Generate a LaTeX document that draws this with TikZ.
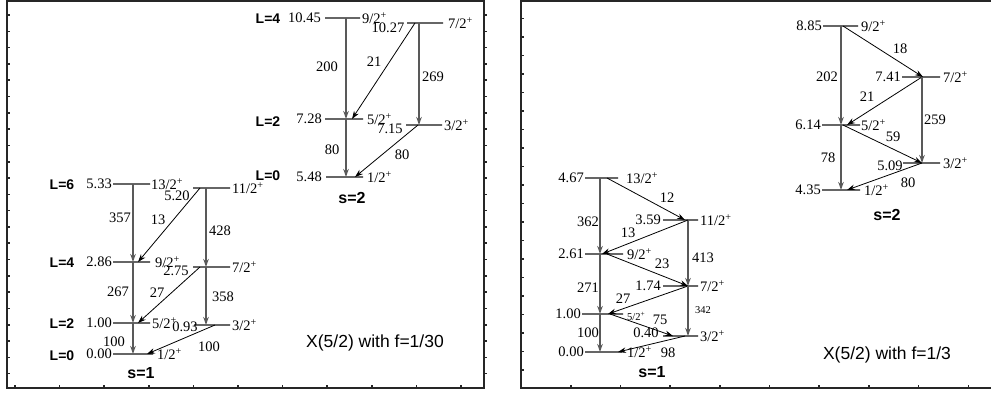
\documentclass[tikz,border=0pt]{standalone}
\usepackage{fontspec}
\setmainfont{Liberation Serif}
\setsansfont{Liberation Sans}
\usetikzlibrary{arrows.meta, positioning}

\begin{document}
\begin{tikzpicture}[
    x=1pt, y=-1pt,
    lvl/.style={draw=black!60, line width=1.4pt, minimum width=#1, minimum height=0pt, inner sep=0pt, outer sep=0pt, anchor=west},
    energy/.style={font=\fontsize{14.5}{16}\selectfont, inner sep=1pt},
    spin/.style={font=\fontsize{14.5}{16}\selectfont, inner sep=1pt},
    small spin/.style={font=\fontsize{10.5}{12}\selectfont, inner sep=1pt},
    inten/.style={font=\fontsize{14.5}{16}\selectfont, inner sep=1pt},
    gamma/.style={-{Stealth[length=8pt, width=5.5pt]}, line width=0.8pt},
    main/.style={gamma, draw=black!65, line width=1.3pt},
    band label/.style={font=\sffamily\bfseries\fontsize{14}{16}\selectfont},
    seq label/.style={font=\sffamily\bfseries\fontsize{16}{18}\selectfont},
    note/.style={font=\sffamily\fontsize{17.5}{20}\selectfont},
    panel frame/.style={line width=1.6pt, black!85},
    axis tick/.style={line width=1.6pt, black!85}
]

\useasboundingbox (0,0) rectangle (991,394);
\fill[white] (0,0) rectangle (991,394);

% Frames
\draw[panel frame] (7,1) rectangle (484,388);
\foreach \i in {0,...,22} {
    \draw[axis tick] (7,{15+16.3*\i}) -- ++(3,0);
    \draw[axis tick] (484,{15+16.3*\i}) -- ++(3,0);
}
\foreach \i in {0,...,10}
    \draw[axis tick] ({15+44.6*\i},388) -- ++(0,-3);

\draw[panel frame] (991,1) -- (521,1) -- (521,388) -- (991,388);
\foreach \i in {1,...,20}
    \draw[axis tick] (521,{18.5*\i}) -- ++(3,0);
\foreach \i in {1,...,9}
    \draw[axis tick] ({521+49.7*\i},388) -- ++(0,-3);

% Left panel, s=1
\node[lvl=37pt] (a13) at (113,184) {};
\node[lvl=37pt] (a11) at (193,188) {};
\node[lvl=37pt] (a9)  at (113,262) {};
\node[lvl=37pt] (a7)  at (193,267) {};
\node[lvl=37pt] (a5)  at (113,323) {};
\node[lvl=36pt] (a3)  at (194,325) {};
\node[lvl=40pt] (a1)  at (113,354) {};

\node[energy, left=0pt of a13] (a13e) {5.33};
\node[energy] (a11e) at (177,196) {5.20};
\node[energy, left=0pt of a9] (a9e) {2.86};
\node[energy] (a7e) at (176,271) {2.75};
\node[energy, left=0pt of a5] (a5e) {1.00};
\node[energy] (a3e) at (185,327) {0.93};
\node[energy, left=0pt of a1] (a1e) {0.00};

\node[spin, right=0pt of a13] (a13j) {13/2\textsuperscript{+}};
\node[spin, right=1pt of a11] (a11j) {11/2\textsuperscript{+}};
\node[spin, right=4pt of a9]  (a9j)  {9/2\textsuperscript{+}};
\node[spin, right=1pt of a7]  (a7j)  {7/2\textsuperscript{+}};
\node[spin, right=1pt of a5]  (a5j)  {5/2\textsuperscript{+}};
\node[spin, right=1pt of a3]  (a3j)  {3/2\textsuperscript{+}};
\node[spin, right=3pt of a1]  (a1j)  {1/2\textsuperscript{+}};

\node[band label] (aL6) at (62,185) {L=6};
\node[band label] (aL4) at (62,263) {L=4};
\node[band label] (aL2) at (62,324) {L=2};
\node[band label] (aL0) at (62,356) {L=0};
\node[seq label] (as) at (141,373) {s=1};

\draw[main]  ([xshift=20pt]a13.west) -- ([xshift=20pt]a9.west);
\draw[gamma] ([xshift=7pt]a11.west)  -- ([xshift=25pt]a9.west);
\draw[main]  ([xshift=13pt]a11.west) -- ([xshift=13pt]a7.west);
\draw[main]  ([xshift=20pt]a9.west)  -- ([xshift=20pt]a5.west);
\draw[gamma] ([xshift=7pt]a7.west)   -- ([xshift=25pt]a5.west);
\draw[main]  ([xshift=13pt]a7.west)  -- ([xshift=12pt]a3.west);
\draw[main]  ([xshift=20pt]a5.west)  -- ([xshift=20pt]a1.west);
\draw[gamma] ([xshift=21pt]a3.west)  -- ([xshift=34pt]a1.west);

\node[inten] (ia357) at (120,218) {357};
\node[inten] (ia13)  at (158,220) {13};
\node[inten] (ia428) at (220,231) {428};
\node[inten] (ia267) at (118,292) {267};
\node[inten] (ia27)  at (157,293) {27};
\node[inten] (ia358) at (223,297) {358};
\node[inten] (ia100v) at (114,342) {100};
\node[inten] (ia100d) at (209,347) {100};

% Left panel, s=2
\node[lvl=35pt] (b9) at (325,18) {};
\node[lvl=36pt] (b7) at (407,23) {};
\node[lvl=38pt] (b5) at (325,119) {};
\node[lvl=36pt] (b3) at (406,125) {};
\node[lvl=37pt] (b1) at (326,177) {};

\node[energy, left=3pt of b9] (b9e) {10.45};
\node[energy] (b7e) at (388,28) {10.27};
\node[energy, left=2pt of b5] (b5e) {7.28};
\node[energy] (b3e) at (390,129) {7.15};
\node[energy, left=3pt of b1] (b1e) {5.48};

\node[spin, right=1pt of b9] (b9j) {9/2\textsuperscript{+}};
\node[spin, right=4pt of b7] (b7j) {7/2\textsuperscript{+}};
\node[spin, right=3pt of b5] (b5j) {5/2\textsuperscript{+}};
\node[spin, right=1pt of b3] (b3j) {3/2\textsuperscript{+}};
\node[spin, right=3pt of b1] (b1j) {1/2\textsuperscript{+}};

\node[band label] (bL4) at (268,19) {L=4};
\node[band label] (bL2) at (268,122) {L=2};
\node[band label] (bL0) at (268,176) {L=0};
\node[seq label] (bs) at (352,198) {s=2};

\draw[main]  ([xshift=21pt]b9.west) -- ([xshift=21pt]b5.west);
\draw[gamma] ([xshift=8pt]b7.west)  -- ([xshift=27pt]b5.west);
\draw[main]  ([xshift=12pt]b7.west) -- ([xshift=13pt]b3.west);
\draw[main]  ([xshift=21pt]b5.west) -- ([xshift=20pt]b1.west);
\draw[gamma] ([xshift=12pt]b3.west) -- ([xshift=29pt]b1.west);

\node[inten] (ib200) at (327,67) {200};
\node[inten] (ib21)  at (374,62) {21};
\node[inten] (ib269) at (433,77) {269};
\node[inten] (ib80v) at (332,150) {80};
\node[inten] (ib80d) at (402,155) {80};

\node[note] (fa) at (375,343) {X(5/2) with f=1/30};

% Right panel, s=1
\node[lvl=33pt] (c13) at (585,178) {};
\node[lvl=35pt] (c11) at (663,220) {};
\node[lvl=38pt] (c9)  at (585,254) {};
\node[lvl=35pt] (c7)  at (663,286) {};
\node[lvl=41pt] (c5)  at (582,314) {};
\node[lvl=35pt] (c3)  at (663,336) {};
\node[lvl=37pt] (c1)  at (585,352) {};

\node[energy, left=0pt of c13] (c13e) {4.67};
\node[energy, left=1pt of c11] (c11e) {3.59};
\node[energy, left=0pt of c9]  (c9e)  {2.61};
\node[energy, left=1pt of c7]  (c7e)  {1.74};
\node[energy, left=0pt of c5]  (c5e)  {1.00};
\node[energy] (c3e) at (646,333) {0.40};
\node[energy, left=0pt of c1]  (c1e)  {0.00};

\node[spin, right=7pt of c13] (c13j) {13/2\textsuperscript{+}};
\node[spin, right=1pt of c11] (c11j) {11/2\textsuperscript{+}};
\node[spin, right=3pt of c9]  (c9j)  {9/2\textsuperscript{+}};
\node[spin, right=1pt of c7]  (c7j)  {7/2\textsuperscript{+}};
\node[small spin, right=3pt of c5, yshift=-2pt] (c5j) {5/2\textsuperscript{+}};
\node[spin, right=1pt of c3]  (c3j)  {3/2\textsuperscript{+}};
\node[spin, right=4pt of c1]  (c1j)  {1/2\textsuperscript{+}};

\node[seq label] (cs) at (652,372) {s=1};

\draw[main]  ([xshift=15pt]c13.west) -- ([xshift=15pt]c9.west);
\draw[gamma] ([xshift=22pt]c13.west) -- ([xshift=22pt]c11.west);
\draw[main]  ([xshift=25pt]c11.west) -- ([xshift=25pt]c7.west);
\draw[gamma] ([xshift=25pt]c11.west) -- ([xshift=17pt]c9.west);
\draw[gamma] ([xshift=22pt]c9.west)  -- ([xshift=25pt]c7.west);
\draw[main]  ([xshift=15pt]c9.west)  -- ([xshift=18pt]c5.west);
\draw[gamma] ([xshift=25pt]c7.west)  -- ([xshift=26pt]c5.west);
\draw[main]  ([xshift=25pt]c7.west)  -- ([xshift=25pt]c3.west);
\draw[gamma] ([xshift=28pt]c5.west)  -- ([xshift=10pt]c3.west);
\draw[main]  ([xshift=18pt]c5.west)  -- ([xshift=15pt]c1.west);
\draw[gamma] ([xshift=22pt]c3.west)  -- ([xshift=33pt]c1.west);

\node[inten] (ic362) at (588,222) {362};
\node[inten] (ic12)  at (667,198) {12};
\node[inten] (ic13)  at (628,233) {13};
\node[inten] (ic413) at (703,258) {413};
\node[inten] (ic23)  at (662,264) {23};
\node[inten] (ic271) at (588,288) {271};
\node[inten] (ic27)  at (623,299) {27};
\node[small spin] (ic342) at (703,310) {342};
\node[inten] (ic75)  at (660,320) {75};
\node[inten] (ic100) at (588,333) {100};
\node[inten] (ic98)  at (668,353) {98};

% Right panel, s=2
\node[lvl=35pt] (d9) at (823,26) {};
\node[lvl=38pt] (d7) at (902,77) {};
\node[lvl=38pt] (d5) at (822,125) {};
\node[lvl=37pt] (d3) at (903,163) {};
\node[lvl=38pt] (d1) at (822,190) {};

\node[energy, left=0pt of d9] (d9e) {8.85};
\node[energy, left=0pt of d7] (d7e) {7.41};
\node[energy, left=0pt of d5] (d5e) {6.14};
\node[energy] (d3e) at (890,166) {5.09};
\node[energy, left=0pt of d1] (d1e) {4.35};

\node[spin, right=2pt of d9] (d9j) {9/2\textsuperscript{+}};
\node[spin, right=2pt of d7] (d7j) {7/2\textsuperscript{+}};
\node[spin, right=0pt of d5] (d5j) {5/2\textsuperscript{+}};
\node[spin, right=2pt of d3] (d3j) {3/2\textsuperscript{+}};
\node[spin, right=3pt of d1] (d1j) {1/2\textsuperscript{+}};

\node[seq label] (ds) at (887,215) {s=2};

\draw[main]  ([xshift=18pt]d9.west) -- ([xshift=19pt]d5.west);
\draw[gamma] ([xshift=20pt]d9.west) -- ([xshift=21pt]d7.west);
\draw[gamma] ([xshift=20pt]d7.west) -- ([xshift=25pt]d5.west);
\draw[main]  ([xshift=20pt]d7.west) -- ([xshift=19pt]d3.west);
\draw[gamma] ([xshift=21pt]d5.west) -- ([xshift=19pt]d3.west);
\draw[main]  ([xshift=19pt]d5.west) -- ([xshift=19pt]d1.west);
\draw[gamma] ([xshift=19pt]d3.west) -- ([xshift=25pt]d1.west);

\node[inten] (id202) at (827,77) {202};
\node[inten] (id18)  at (900,49) {18};
\node[inten] (id21)  at (867,97) {21};
\node[inten] (id259) at (935,120) {259};
\node[inten] (id59)  at (893,137) {59};
\node[inten] (id78)  at (828,158) {78};
\node[inten] (id80)  at (908,183) {80};

\node[note] (fc) at (887,355) {X(5/2) with f=1/3};

\end{tikzpicture}
\end{document}
